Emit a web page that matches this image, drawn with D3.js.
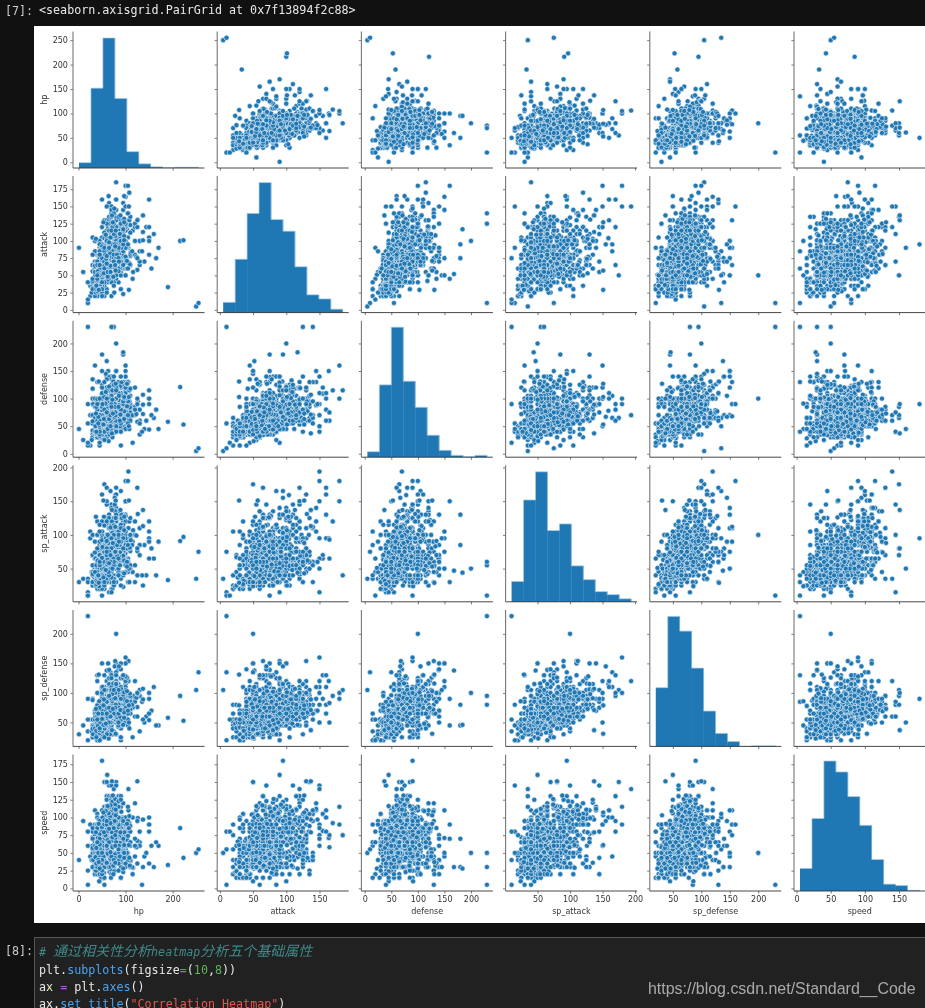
<!DOCTYPE html>
<html>
<head>
<meta charset="utf-8">
<script src="https://d3js.org/d3.v7.min.js"></script>
<style>
  html, body { margin: 0; padding: 0; background: #111; overflow: hidden; }
  svg { display: block; }
  .grid { filter: blur(0.3px); }
  .grid text { font-family: "DejaVu Sans", sans-serif; font-size: 8px; fill: #333; }
  .mono { font-family: "DejaVu Sans Mono", monospace; font-size: 11.7px; }
</style>
</head>
<body>
<div id="chart"></div>
<script>
// six numbers per pokemon: hp, attack, defense, sp_attack, sp_defense, speed
var gen1 = [45,49,49,65,65,45, 60,62,63,80,80,60, 80,100,123,122,120,80, 39,52,43,60,50,65, 58,64,58,80,65,80, 78,104,78,159,115,100, 44,48,65,50,64,43, 59,63,80,65,80,58, 79,103,120,135,115,78, 45,30,35,20,20,45, 50,20,55,25,25,30, 60,45,50,90,80,70, 40,35,30,20,20,50, 45,25,50,25,25,35, 65,150,40,15,80,145, 40,45,40,35,35,56, 63,60,55,50,50,71, 83,80,80,135,80,121, 30,56,35,25,35,72, 75,71,70,40,80,77, 40,60,30,31,31,70, 65,90,65,61,61,100, 35,60,44,40,54,55, 60,95,69,65,79,80, 35,55,40,50,50,90, 60,85,50,95,85,110, 50,75,90,10,35,40, 75,100,120,25,65,65, 55,47,52,40,40,41, 70,62,67,55,55,56, 90,92,87,75,85,76, 46,57,40,40,40,50, 61,72,57,55,55,65, 81,102,77,85,75,85, 70,45,48,60,65,35, 95,70,73,95,90,60, 38,41,40,50,65,65, 73,67,75,81,100,109, 115,45,20,45,25,20, 140,70,45,85,50,45, 40,45,35,30,40,55, 75,80,70,65,75,90, 45,50,55,75,65,30, 60,65,70,85,75,40, 75,80,85,110,90,50, 35,70,55,45,55,25, 60,95,80,60,80,30, 60,55,50,40,55,45, 70,65,60,90,75,90, 10,55,25,35,45,95, 35,100,60,50,70,110, 40,45,35,40,40,90, 65,70,60,65,65,115, 50,52,48,65,50,55, 80,82,78,95,80,85, 40,80,35,35,45,70, 65,105,60,60,70,95, 55,70,45,70,50,60, 90,110,80,100,80,95, 40,50,40,40,40,90, 65,65,65,50,50,90, 90,95,95,70,90,70, 25,20,15,105,55,90, 40,35,30,120,70,105, 55,50,65,175,105,150, 70,80,50,35,35,35, 80,100,70,50,60,45, 90,130,80,65,85,55, 50,75,35,70,30,40, 65,90,50,85,45,55, 80,105,65,100,70,70, 40,40,35,50,100,70, 80,70,65,80,120,100, 40,80,100,30,30,20, 55,95,115,45,45,35, 80,120,130,55,65,45, 50,85,55,65,65,90, 65,100,70,80,80,105, 90,65,65,40,40,15, 95,75,180,130,80,30, 25,35,70,95,55,45, 50,60,95,120,70,70, 52,90,55,58,62,60, 35,85,45,35,35,75, 60,110,70,60,60,110, 65,45,55,45,70,45, 90,70,80,70,95,70, 80,80,50,40,50,25, 105,105,75,65,100,50, 30,65,100,45,25,40, 50,95,180,85,45,70, 30,35,30,100,35,80, 45,50,45,115,55,95, 60,65,80,170,95,130, 35,45,160,30,45,70, 60,48,45,43,90,42, 85,73,70,73,115,67, 30,105,90,25,25,50, 55,130,115,50,50,75, 40,30,50,55,55,100, 60,50,70,80,80,150, 60,40,80,60,45,40, 95,105,85,125,75,45, 50,50,95,40,50,35, 60,80,110,50,80,45, 50,120,53,35,110,87, 50,105,79,35,110,76, 90,55,75,60,75,30, 40,65,95,60,45,35, 65,90,120,85,70,60, 80,85,95,30,30,25, 105,130,120,45,45,40, 250,5,5,35,105,50, 65,55,115,100,40,60, 105,125,100,60,100,100, 30,40,70,70,25,60, 55,65,95,95,45,85, 45,67,60,35,50,63, 80,92,65,65,80,68, 30,45,55,70,55,85, 60,75,85,100,85,115, 40,45,65,100,120,90, 70,110,80,55,80,105, 65,50,35,115,95,95, 65,83,57,95,85,105, 65,95,57,100,85,93, 65,155,120,65,90,105, 75,100,95,40,70,110, 20,10,55,15,20,80, 95,155,109,70,130,81, 130,85,80,85,95,60, 48,48,48,48,48,48, 55,55,50,45,65,55, 130,65,60,110,95,65, 65,65,60,110,95,130, 65,130,60,95,110,65, 65,60,70,85,75,40, 35,40,100,90,55,35, 70,60,125,115,70,55, 30,80,90,55,45,55, 60,115,105,65,70,80, 80,135,85,70,95,150, 160,110,65,65,110,30, 90,85,100,95,125,85, 90,90,85,125,90,100, 90,100,90,125,85,90, 41,64,45,50,50,50, 61,84,65,70,70,70, 91,134,95,100,100,80, 106,150,70,194,120,140, 100,100,100,100,100,100];
var gen2 = [45,49,65,49,65,45, 60,62,80,63,80,60, 80,82,100,83,100,80, 39,52,43,60,50,65, 58,64,58,80,65,80, 78,84,78,109,85,100, 50,65,64,44,48,43, 65,80,80,59,63,58, 85,105,100,79,83,78, 35,46,34,35,45,20, 85,76,64,45,55,90, 60,30,30,36,56,50, 100,50,50,86,96,70, 40,20,30,40,80,55, 55,35,50,55,110,85, 40,60,40,40,40,30, 70,90,70,60,70,40, 85,90,80,70,80,130, 75,38,38,56,56,67, 125,58,58,76,76,67, 20,40,15,35,35,60, 50,25,28,45,55,15, 90,30,15,40,20,15, 35,20,65,40,65,20, 55,40,85,80,105,40, 40,50,45,70,45,70, 65,75,70,95,70,95, 55,40,40,65,45,35, 70,55,55,80,60,45, 90,95,105,165,110,45, 75,80,95,90,100,50, 70,20,50,20,50,40, 100,50,80,60,80,50, 70,100,115,30,65,30, 90,75,75,90,100,70, 35,35,40,35,55,50, 55,45,50,45,65,80, 75,55,70,55,95,110, 55,70,55,40,55,85, 30,30,30,30,30,30, 75,75,55,105,85,30, 65,65,45,75,45,95, 55,45,45,25,25,15, 95,85,85,65,65,35, 65,65,60,130,95,110, 95,65,110,60,130,65, 60,85,42,85,42,91, 95,75,80,100,110,30, 60,60,60,85,85,85, 48,72,48,72,48,48, 190,33,58,33,58,33, 70,80,65,90,65,85, 50,65,90,35,35,15, 75,90,140,60,60,40, 100,70,70,65,65,45, 65,75,105,35,65,85, 75,125,230,55,95,30, 60,80,50,40,40,30, 90,120,75,60,60,45, 65,95,85,55,55,85, 70,150,140,65,100,75, 20,10,230,10,230,5, 80,185,115,40,105,75, 55,95,55,35,75,115, 60,80,50,50,50,40, 90,130,75,75,75,55, 40,40,40,70,40,20, 60,50,120,90,80,30, 50,50,40,30,30,50, 100,100,80,60,60,50, 65,55,95,65,95,35, 35,65,35,65,35,65, 75,105,75,105,75,45, 45,55,45,65,45,75, 85,40,70,80,140,70, 65,80,140,40,70,70, 45,60,30,80,50,65, 75,90,90,140,90,115, 75,95,95,95,95,85, 90,60,60,40,40,40, 90,120,120,60,60,50, 85,80,90,105,95,60, 73,95,62,85,65,85, 55,20,35,20,45,75, 35,35,35,35,35,35, 50,95,95,35,110,70, 45,30,15,85,65,65, 45,63,37,65,55,95, 45,75,37,70,55,83, 95,80,105,40,70,100, 255,10,10,75,135,55, 90,85,75,115,100,115, 115,115,85,90,75,100, 100,75,115,90,115,85, 50,64,50,45,50,41, 70,84,70,65,70,51, 100,164,150,95,120,71, 106,90,130,90,154,110, 106,130,90,110,154,90, 100,100,100,100,100,100];
var gen3 = [40,45,35,65,55,70, 50,65,45,85,65,95, 70,110,75,145,85,145, 45,60,40,70,50,45, 60,85,60,85,60,55, 80,160,80,130,80,100, 50,70,50,50,50,40, 70,85,70,60,70,50, 100,150,110,95,110,70, 35,55,35,30,30,35, 70,90,70,60,60,70, 38,30,41,30,41,60, 78,70,61,50,61,100, 45,45,35,20,30,20, 50,35,55,25,25,15, 60,70,50,100,50,65, 50,35,55,25,25,15, 60,50,70,50,90,65, 40,30,30,40,50,30, 60,50,50,60,70,50, 80,70,70,90,100,70, 40,40,50,30,30,30, 60,70,40,60,40,60, 90,100,60,90,60,80, 40,55,30,30,30,60, 60,85,60,75,50,125, 40,30,30,55,30,85, 60,50,100,95,70,65, 28,25,25,45,35,40, 38,35,35,65,55,50, 68,85,65,165,135,100, 40,30,32,50,52,65, 70,60,62,100,82,80, 60,40,60,40,60,35, 60,130,80,60,60,70, 60,60,60,35,35,30, 80,80,80,55,55,90, 150,160,100,95,65,100, 31,45,90,30,30,40, 61,90,45,50,50,160, 1,90,45,30,30,40, 64,51,23,51,23,28, 84,71,43,71,43,48, 104,91,63,91,73,68, 72,60,30,20,30,25, 144,120,60,40,60,50, 50,20,40,20,40,20, 30,45,135,45,90,30, 50,45,45,35,35,50, 70,65,65,55,55,90, 50,85,85,55,55,50, 50,105,125,55,95,50, 50,70,100,40,40,30, 60,90,140,50,50,40, 70,140,230,60,80,50, 30,40,55,40,55,60, 60,100,85,80,85,100, 40,45,40,65,40,65, 70,75,60,105,60,105, 60,50,40,85,75,95, 60,40,50,75,85,95, 65,73,75,47,85,85, 65,47,75,73,85,85, 50,60,45,100,80,65, 70,43,53,43,53,40, 100,73,83,73,83,55, 45,90,20,65,20,65, 70,140,70,110,65,105, 130,70,35,70,35,60, 170,90,45,90,45,60, 60,60,40,65,45,35, 70,120,100,145,105,20, 70,85,140,85,70,20, 60,25,35,70,80,60, 80,45,65,90,110,80, 60,60,60,60,60,60, 45,100,45,45,45,10, 50,70,50,50,50,70, 80,100,80,80,80,100, 50,85,40,85,40,35, 70,115,60,115,60,55, 75,40,75,40,75,50, 75,110,110,110,105,80, 73,115,60,60,60,90, 73,100,60,100,60,65, 70,55,65,95,85,70, 70,95,85,55,65,70, 50,48,43,46,41,60, 110,78,73,76,71,60, 43,80,65,50,35,35, 63,120,85,90,55,55, 40,40,55,40,70,55, 60,70,105,70,120,75, 66,41,77,61,87,23, 86,81,97,81,107,43, 45,95,50,40,50,75, 75,125,100,70,80,45, 20,15,20,10,55,80, 95,60,79,100,125,81, 70,70,70,70,70,70, 60,90,70,60,120,40, 44,75,35,63,33,45, 64,165,75,93,83,75, 20,40,90,30,90,25, 40,70,130,60,130,25, 99,68,83,72,87,51, 65,130,60,75,60,75, 95,23,48,23,48,23, 50,50,50,50,50,50, 80,120,80,120,80,100, 70,40,50,55,50,25, 90,60,70,75,70,45, 110,80,90,95,90,65, 35,64,85,74,55,32, 55,104,105,94,75,52, 55,84,105,114,75,52, 100,90,130,45,65,55, 43,30,55,40,65,97, 45,75,60,40,30,50, 65,95,100,60,50,50, 95,145,130,120,90,120, 40,55,80,35,60,30, 60,75,100,55,80,50, 80,145,150,105,110,110, 80,100,200,50,100,50, 80,50,100,100,200,50, 80,75,150,75,150,50, 80,100,120,140,150,110, 80,130,100,160,120,110, 100,150,90,180,160,90, 100,180,160,150,90,90, 105,180,100,180,100,115, 100,100,100,100,100,100, 50,95,90,95,90,180];
var gen4 = [55,68,64,45,55,31, 75,89,85,55,65,36, 95,109,105,75,85,56, 44,58,44,58,44,61, 64,78,52,78,52,81, 76,104,71,104,71,108, 53,51,53,61,56,40, 64,66,68,81,76,50, 84,86,88,111,101,60, 40,55,30,30,30,60, 55,75,50,40,40,80, 85,120,70,50,60,100, 59,45,40,35,40,31, 79,85,60,55,60,71, 37,25,41,25,41,25, 77,85,51,55,51,65, 45,65,34,40,34,45, 60,85,49,60,49,60, 80,120,79,95,79,70, 40,30,35,50,70,55, 60,70,65,125,105,90, 67,125,40,30,30,58, 97,165,60,65,50,58, 30,42,118,42,88,30, 60,52,168,47,138,30, 40,29,45,29,45,36, 60,59,85,79,105,36, 70,94,50,94,50,66, 30,30,42,30,42,70, 70,80,102,80,102,40, 60,45,70,45,90,70, 60,85,40,30,45,95, 85,105,55,85,50,115, 45,35,45,62,53,35, 70,60,70,87,78,85, 76,48,48,57,62,34, 111,83,68,92,82,39, 90,50,45,25,25,40, 75,100,66,60,66,115, 90,120,60,60,45,85, 50,55,55,50,55,55, 90,70,80,90,50,80, 45,35,45,55,40,90, 70,65,70,85,75,80, 50,45,55,105,105,85, 60,85,69,65,79,105, 70,60,70,65,70,120, 155,60,70,80,70,60, 72,90,72,95,72,95, 75,35,65,35,65,60, 63,63,47,63,47,85, 71,82,64,64,59,112, 63,50,150,50,150,45, 103,117,119,53,72,44, 50,65,107,105,107,86, 45,65,90,25,50,40, 70,92,108,65,65,35, 135,85,40,40,85,5, 40,70,40,35,40,60, 70,145,88,140,70,112, 60,40,60,40,60,30, 70,90,80,60,80,45, 48,61,40,61,40,50, 83,106,65,86,65,85, 65,135,65,75,90,40, 80,110,55,55,55,45, 70,95,70,60,70,50, 100,115,95,95,95,75, 75,55,55,115,115,45, 65,65,65,125,125,40, 90,50,40,75,25,90, 100,50,45,120,70,35, 90,75,60,40,60,30, 108,170,115,120,95,92, 58,70,45,40,45,42, 68,90,65,50,55,82, 108,130,95,80,85,102, 70,110,70,115,70,90, 110,112,118,55,72,40, 85,76,65,45,45,90, 75,120,60,35,60,140, 65,75,139,65,139,30, 95,85,125,115,95,55, 60,90,80,85,90,75, 48,40,65,50,78,15, 120,80,70,100,90,70, 66,50,35,70,50,75, 55,85,25,90,30,90, 45,95,45,90,60,95, 88,60,50,85,60,50, 70,115,60,50,65,90, 55,92,69,50,45,72, 90,72,70,115,75,75, 70,120,65,45,85,125, 50,92,108,92,108,35, 130,100,55,85,105,80, 50,50,120,80,100,80, 43,55,38,55,38,91, 100,90,72,105,100,80, 90,120,60,35,60,130, 90,70,110,70,110,80, 72,95,67,103,71,92, 105,140,130,60,65,40, 75,123,67,95,85,95, 65,125,100,65,115,80, 68,125,65,65,115,80, 60,65,40,30,30,50, 70,80,70,95,90,65, 100,90,140,130,150,30, 75,75,130,75,130,95, 80,135,90,125,75,105, 78,115,75,65,65,110, 72,90,65,80,60,100, 150,105,90,105,90,90, 90,70,140,70,140,60, 100,120,120,150,100,90, 100,120,100,150,120,90, 70,55,135,70,100,85, 150,120,100,120,100,90, 70,80,110,75,130,85, 70,90,75,75,125,65, 80,80,80,80,80,80, 91,90,106,130,106,77, 120,120,120,120,120,120, 80,100,100,135,75,125, 70,120,70,110,70,115];
var gen5 = [45,45,55,45,55,63, 60,60,75,60,75,83, 75,75,95,75,95,113, 65,63,45,45,45,45, 90,93,55,70,55,55, 110,123,65,100,65,65, 55,55,45,63,45,45, 75,75,60,83,60,60, 95,100,85,108,70,70, 45,55,39,35,39,42, 60,85,69,60,69,77, 45,60,45,25,45,55, 65,80,65,35,65,60, 41,50,37,50,37,66, 64,88,50,88,50,106, 50,53,48,53,48,64, 75,98,63,98,63,101, 76,25,45,67,55,24, 116,55,85,107,95,29, 50,55,50,36,30,43, 62,77,62,50,42,65, 80,115,80,65,55,93, 45,60,32,50,32,76, 75,100,63,80,63,116, 55,75,85,25,25,15, 70,105,105,50,40,20, 85,135,130,60,80,25, 65,45,43,55,43,72, 67,57,55,77,55,114, 60,85,40,30,45,68, 110,135,60,50,65,88, 103,60,126,80,126,50, 75,80,55,25,35,35, 85,105,85,40,50,40, 105,140,95,55,65,45, 50,50,40,50,40,64, 75,65,55,65,55,69, 105,95,75,85,75,74, 120,100,85,30,85,45, 75,125,75,30,75,85, 45,53,70,40,60,42, 55,63,90,50,80,42, 75,103,80,70,80,92, 30,45,59,30,39,57, 40,55,99,40,79,47, 60,100,89,55,69,112, 40,27,60,37,50,66, 60,67,85,77,75,116, 45,35,50,70,50,30, 70,60,75,110,75,90, 70,92,65,80,55,98, 50,72,35,35,35,65, 60,82,45,45,45,74, 95,117,80,65,70,92, 70,90,45,15,45,50, 105,140,55,30,55,95, 50,65,85,35,35,55, 70,105,125,65,75,45, 50,75,70,35,70,48, 65,90,115,45,115,58, 72,58,80,103,80,97, 38,30,85,55,65,30, 58,50,145,95,105,30, 54,78,103,53,45,22, 74,108,133,83,65,32, 55,112,45,74,45,70, 75,140,65,112,65,110, 50,50,62,40,62,65, 80,95,82,60,82,75, 40,65,40,80,40,65, 60,105,60,120,60,105, 55,50,40,40,40,75, 75,95,60,65,60,115, 45,30,50,55,65,45, 70,55,95,95,110,65, 45,30,40,105,50,20, 110,65,75,125,85,30, 62,44,50,44,50,55, 75,87,63,87,63,98, 36,50,50,65,60,44, 71,95,85,110,95,79, 60,60,50,40,50,75, 80,100,70,60,70,95, 55,75,60,75,60,103, 50,75,45,40,45,60, 70,135,105,60,105,20, 69,55,45,55,55,15, 114,85,70,85,80,30, 55,40,50,65,85,40, 100,60,70,85,105,60, 50,47,50,57,50,65, 70,77,60,97,60,108, 44,50,91,24,86,10, 74,94,131,54,116,20, 40,55,70,45,60,30, 60,100,115,70,85,90, 35,55,40,45,40,60, 85,115,80,105,80,50, 55,55,55,85,55,30, 75,75,75,125,95,40, 50,30,55,65,55,20, 60,55,90,145,90,80, 46,87,60,30,40,57, 76,147,90,60,70,97, 55,70,40,60,40,40, 95,130,80,70,80,50, 80,50,50,95,135,105, 50,40,85,40,65,25, 80,70,40,100,60,145, 45,85,50,55,50,65, 65,125,60,95,60,105, 77,120,90,60,90,48, 59,74,50,35,50,35, 89,124,80,55,80,55, 45,85,70,40,40,60, 65,125,100,60,70,70, 95,110,95,40,95,55, 70,83,50,37,50,60, 100,123,75,57,75,80, 70,55,75,45,65,60, 110,65,105,55,95,80, 85,97,66,105,66,65, 72,85,70,65,70,58, 92,105,90,125,90,98, 55,85,55,50,55,60, 85,60,65,135,105,100, 91,90,129,90,72,108, 71,120,95,120,95,99, 100,77,77,128,128,90];
var gen67 = [56,61,65,48,45,38, 61,78,95,56,58,57, 88,107,122,74,75,64, 40,45,40,62,60,60, 59,59,58,90,70,73, 75,69,72,114,100,104, 41,56,40,62,44,71, 54,63,52,83,56,97, 72,95,67,103,71,122, 38,36,38,32,36,57, 85,56,77,50,77,78, 45,50,43,40,38,62, 78,81,71,74,69,126, 67,82,62,46,48,43, 95,124,78,69,71,58, 75,80,60,65,90,102, 62,48,54,63,60,68, 74,48,76,83,81,104, 45,80,100,35,37,28, 60,150,50,150,50,60, 62,48,66,59,57,49, 82,80,86,85,75,72, 53,54,53,37,46,45, 86,92,88,68,75,73, 42,52,67,39,56,50, 72,105,115,54,86,68, 82,121,119,69,59,71, 123,77,72,99,92,58, 95,65,65,110,130,60, 78,92,75,74,63,118, 67,58,57,81,67,101, 50,50,150,50,150,50, 45,50,35,55,75,40, 90,100,70,110,150,80, 57,80,91,80,87,75, 85,110,76,65,82,56, 85,70,80,97,80,123, 50,160,110,160,110,110, 80,160,60,170,130,80, 80,110,120,130,90,70, 68,55,55,50,50,42, 78,107,75,100,100,70, 45,65,40,60,40,70, 95,115,90,80,90,60, 50,54,54,66,56,40, 80,74,74,126,116,60, 80,120,75,75,75,60, 88,110,60,55,60,45, 77,70,90,145,75,43, 97,132,77,62,67,43, 75,70,70,98,70,93, 75,115,65,55,65,112, 100,125,100,55,85,35, 70,105,90,80,90,45, 68,64,60,111,60,117, 120,125,80,55,60,60, 72,120,98,50,98,72, 51,52,90,82,110,100, 75,125,140,60,90,40, 85,75,110,100,75,35, 95,95,95,95,95,95, 65,115,65,75,95,65, 60,78,135,91,85,36, 65,98,63,40,73,96, 55,90,80,50,105,96, 68,105,70,70,70,92, 78,60,85,135,91,36, 75,110,125,100,105,85, 70,115,85,95,75,130, 137,137,107,113,89,97, 137,113,89,137,107,97, 97,107,101,127,89,79, 80,95,115,130,115,65, 90,125,80,90,90,125, 216,100,121,91,95,85, 223,101,53,97,53,43, 165,75,80,40,45,65, 55,60,130,30,130,5, 95,117,184,44,46,28, 126,131,95,131,98,99, 78,65,68,112,154,75, 54,53,63,127,89,79, 108,68,45,30,40,43, 125,75,100,40,60,35, 137,101,72,25,55,30, 109,66,84,81,99,32, 150,100,115,65,65,35, 150,80,44,90,54,80, 103,60,86,60,86,50, 77,95,67,155,145,95, 97,127,63,43,58,50, 86,70,105,90,145,60, 79,115,70,125,80,111, 125,120,90,170,100,95, 125,130,90,80,100,151, 105,60,70,85,70,85, 42,30,55,40,65,40, 60,67,75,80,75,60, 64,88,50,45,50,106, 85,90,85,40,65,55, 58,109,112,48,48,109, 62,55,45,100,60,116, 38,35,40,27,25,35, 68,55,50,60,60,51, 78,92,75,75,75,60, 60,125,100,75,65,95, 65,90,122,58,75,84, 40,50,90,30,55,65, 107,150,50,50,50,85, 89,137,71,137,71,79, 107,29,103,151,79,61, 73,127,73,88,73,131, 97,101,103,107,101,61, 71,137,37,137,37,151, 37,103,73,127,73,79, 79,57,127,151,31,103, 103,71,127,53,103,91, 43,29,131,29,131,37, 53,127,53,151,79,107];

var hpHist = [14, 210, 342, 183, 43, 11, 3, 1, 2, 2];
var attackHist = [15, 78, 145, 190, 136, 119, 67, 26, 20, 5];
var defenseHist = [12, 158, 284, 166, 109, 48, 15, 4, 1, 4];
var spAttackHist = [34, 170, 217, 119, 130, 60, 37, 17, 12, 5];
var spDefenseHist = [108, 239, 212, 144, 65, 24, 9, 0, 1, 1];
var speedHist = [33, 106, 190, 174, 138, 96, 46, 10, 8, 1];

var names = ['hp', 'attack', 'defense', 'sp_attack', 'sp_defense', 'speed'];
var hists = [hpHist, attackHist, defenseHist, spAttackHist, spDefenseHist, speedHist];
var ranges = [[1, 255], [5, 185], [5, 230], [10, 194], [20, 230], [5, 180]];
var xTicks = [[0, 100, 200], [0, 50, 100, 150], [0, 50, 100, 150, 200], [50, 100, 150, 200], [50, 100, 150, 200], [0, 50, 100, 150]];
var yTicks = [[0, 50, 100, 150, 200, 250], [0, 25, 50, 75, 100, 125, 150, 175], [0, 50, 100, 150, 200], [50, 100, 150, 200], [50, 100, 150, 200], [0, 25, 50, 75, 100, 125, 150, 175]];

var flat = gen1.concat(gen2, gen3, gen4, gen5, gen67);
var rows = d3.range(0, flat.length, 6).map(function(i){ return flat.slice(i, i + 6) });

var width = 925, height = 1008;
var gridLeft = 73, colStep = 144.2, axisW = 131.5;
var gridTop = 31.5, rowStep = 144.6, axisH = 136.5;
var blue = '#1f77b4';

var svg = d3.select('#chart').append('svg')
  .attr('width', width)
  .attr('height', height);

svg.append('rect').attr('x', 34).attr('y', 26).attr('width', 891).attr('height', 897).attr('fill', '#fff');

function padded(i) {
  var pad = (ranges[i][1] - ranges[i][0]) * 0.05;
  return [ranges[i][0] - pad, ranges[i][1] + pad];
}

var xScales = names.map(function(n, i){ return d3.scaleLinear().domain(padded(i)).range([0, axisW]) });
var yScales = names.map(function(n, i){ return d3.scaleLinear().domain(padded(i)).range([axisH, 0]) });

var grid = svg.append('g').attr('class', 'grid');

function drawHist(cell, i) {
  var x = xScales[i];
  var counts = hists[i];
  var y = d3.scaleLinear().domain([0, d3.max(counts) * 1.05]).range([axisH, 0]);
  var step = (ranges[i][1] - ranges[i][0]) / counts.length;

  cell.selectAll('rect.bar')
    .data(counts)
    .enter().append('rect')
    .attr('class', 'bar')
    .attr('x', function(d, k){ return x(ranges[i][0] + k * step) })
    .attr('width', x(step) - x(0) + 0.3)
    .attr('y', function(d){ return y(d) })
    .attr('height', function(d){ return axisH - y(d) })
    .attr('fill', blue);

  // pale outline left by the bar edges
  var outline = d3.line().curve(d3.curveStepAfter)
    .x(function(d){ return x(d[0]) })
    .y(function(d){ return y(d[1]) });
  var steps = counts.map(function(d, k){ return [ranges[i][0] + k * step, d] });
  steps.push([ranges[i][1], 0]);
  cell.append('path')
    .attr('d', outline(steps))
    .attr('fill', 'none')
    .attr('stroke', '#a9cce5')
    .attr('stroke-width', 0.7);
}

function drawScatter(cell, r, c) {
  cell.selectAll('circle')
    .data(rows)
    .enter().append('circle')
    .attr('cx', function(d){ return xScales[c](d[c]) })
    .attr('cy', function(d){ return yScales[r](d[r]) })
    .attr('r', 2.55)
    .attr('fill', blue)
    .attr('stroke', '#fff')
    .attr('stroke-width', 0.55);
}

function drawAxes(cell, r, c) {
  var xAxis = d3.axisBottom(xScales[c]).tickValues(xTicks[c]).tickSize(2.6).tickPadding(2.5)
    .tickFormat(r == 5 ? d3.format('d') : '');
  var yAxis = d3.axisLeft(yScales[r]).tickValues(yTicks[r]).tickSize(2.6).tickPadding(2.5)
    .tickFormat(c == 0 ? d3.format('d') : '');

  var gx = cell.append('g').attr('transform', 'translate(0,' + axisH + ')').call(xAxis);
  var gy = cell.append('g').call(yAxis);

  gx.selectAll('text').attr('font-family', null).attr('font-size', null);
  gy.selectAll('text').attr('font-family', null).attr('font-size', null);
  gx.selectAll('.tick line').attr('stroke', '#444').attr('stroke-width', 0.7);
  gy.selectAll('.tick line').attr('stroke', '#444').attr('stroke-width', 0.7);
  gx.select('.domain').remove();
  gy.select('.domain').remove();

  cell.append('line').attr('x1', 0).attr('x2', 0).attr('y1', 0).attr('y2', axisH)
    .attr('stroke', '#777').attr('stroke-width', 1.1);
  cell.append('line').attr('x1', 0).attr('x2', axisW).attr('y1', axisH).attr('y2', axisH)
    .attr('stroke', '#333').attr('stroke-width', 0.9);

  if (r == 5) {
    cell.append('text').attr('x', axisW / 2).attr('y', axisH + 23)
      .attr('text-anchor', 'middle').text(names[c]);
  }
  if (c == 0) {
    cell.append('text')
      .attr('transform', 'translate(-26,' + axisH / 2 + ') rotate(-90)')
      .attr('text-anchor', 'middle').text(names[r]);
  }
}

names.forEach(function(rn, r){
  names.forEach(function(cn, c){
    var cell = grid.append('g')
      .attr('transform', 'translate(' + (gridLeft + c * colStep) + ',' + (gridTop + r * rowStep) + ')');
    if (r == c) drawHist(cell, r);
    else drawScatter(cell, r, c);
    drawAxes(cell, r, c);
  });
});

// notebook chrome around the figure
function mono(x, y, fill, str) {
  return svg.append('text').attr('class', 'mono').attr('x', x).attr('y', y).attr('fill', fill).text(str);
}
mono(5, 15, '#ccc', '[7]:');
mono(39, 14, '#e8e8e8', '<seaborn.axisgrid.PairGrid at 0x7f13894f2c88>');

svg.append('rect').attr('x', 34.5).attr('y', 937.5).attr('width', 900).attr('height', 90)
  .attr('fill', '#212121').attr('stroke', '#555');
mono(5, 955, '#ccc', '[8]:');

var white = '#e6e6e6', fnBlue = '#4aa3ef', purple = '#c652e0', green = '#5cb85c', red = '#ef5350';
var codeLines = [
  [['plt.', white], ['subplots', fnBlue], ['(figsize', white], ['=', purple], ['(', white], ['10', green], [',', white], ['8', green], ['))', white]],
  [['ax ', white], ['=', purple], [' plt.', white], ['axes', fnBlue], ['()', white]],
  [['ax.', white], ['set_title', fnBlue], ['(', white], ['"Correlation Heatmap"', red], [')', white]]
];

var comment = svg.append('text').attr('class', 'mono').attr('x', 39).attr('y', 956)
  .attr('fill', '#3f8a8a').attr('font-style', 'italic');
[['# ', 11.7], ['通过相关性分析', 14], ['heatmap', 11.7], ['分析五个基础属性', 14]].forEach(function(p){
  comment.append('tspan').style('font-size', p[1] + 'px')
    .style('font-family', p[1] == 14 ? '"Noto Sans CJK SC"' : '"DejaVu Sans Mono"').text(p[0]);
});

codeLines.forEach(function(line, i){
  var t = svg.append('text').attr('class', 'mono').attr('x', 39).attr('y', 973.5 + i * 17);
  line.forEach(function(p){
    t.append('tspan').attr('fill', p[1]).text(p[0]);
  });
});

svg.append('text').attr('x', 648).attr('y', 994)
  .attr('font-family', '"Liberation Sans", Arial, sans-serif')
  .attr('font-size', 15.95).attr('fill', '#aaa')
  .text('https://blog.csdn.net/Standard__Code');
</script>
</body>
</html>
